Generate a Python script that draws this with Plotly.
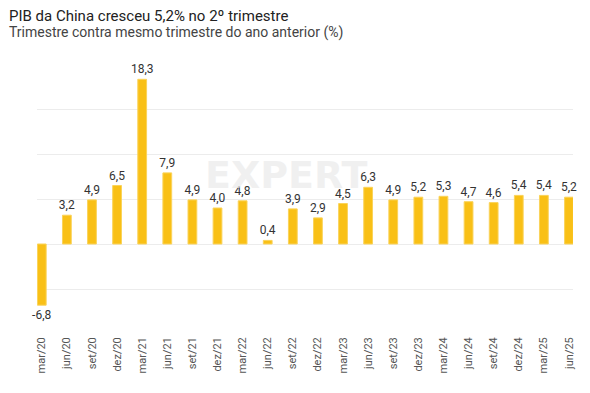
import plotly.graph_objects as go

categories = ["mar/20", "jun/20", "set/20", "dez/20", "mar/21", "jun/21", "set/21", "dez/21",
              "mar/22", "jun/22", "set/22", "dez/22", "mar/23", "jun/23", "set/23", "dez/23",
              "mar/24", "jun/24", "set/24", "dez/24", "mar/25", "jun/25"]
values = [-6.8, 3.2, 4.9, 6.5, 18.3, 7.9, 4.9, 4.0, 4.8, 0.4, 3.9, 2.9,
          4.5, 6.3, 4.9, 5.2, 5.3, 4.7, 4.6, 5.4, 5.4, 5.2]
title = "PIB da China cresceu 5,2% no 2º trimestre"
subtitle = "Trimestre contra mesmo trimestre do ano anterior (%)"

labels = [f"{v:.1f}".replace(".", ",") for v in values]

fig = go.Figure()
fig.add_trace(go.Bar(
    x=categories, y=values, width=0.35,
    marker=dict(color="#F9C016", line=dict(color="#FAD35A", width=1)),
    text=labels, textposition="outside", cliponaxis=False, constraintext="none",
    textfont=dict(family="Roboto", size=12, color="#333333"),
    hoverinfo="skip",
))

# page body has an 8px default margin, so the figure is drawn 8px smaller and offset
fig.update_layout(
    width=582, height=385,
    margin=dict(l=29, r=17, t=56, b=59, autoexpand=False),
    plot_bgcolor="white", paper_bgcolor="white",
    showlegend=False,
    font=dict(family="Roboto", color="#444444"),
    xaxis=dict(type="category", range=[-0.19, 21.16], tickangle=-90,
               tickfont=dict(family="Roboto", size=11, color="#555555"),
               showgrid=False, showline=False, ticks="", zeroline=False, automargin=False),
    yaxis=dict(range=[-10, 20], dtick=5, showticklabels=False,
               showgrid=True, gridcolor="#ececec", gridwidth=1,
               zeroline=True, zerolinecolor="#ececec", zerolinewidth=1, showline=False,
               automargin=False),
    annotations=[
        dict(text="<b>EXPERT</b>", xref="paper", yref="paper", x=0.465, y=0.59,
             xanchor="center", yanchor="middle", showarrow=False,
             font=dict(family="DejaVu Sans", size=38, color="rgba(236,236,236,0.75)")),
        dict(text=title, xref="paper", yref="paper", x=0, y=1, xshift=-30, yshift=37,
             xanchor="left", yanchor="bottom", showarrow=False,
             font=dict(family="Roboto", size=15, color="#222222")),
        dict(text=subtitle, xref="paper", yref="paper", x=0, y=1, xshift=-30, yshift=21,
             xanchor="left", yanchor="bottom", showarrow=False,
             font=dict(family="Roboto", size=14, color="#444444")),
    ],
)
fig.write_html("out.html")
